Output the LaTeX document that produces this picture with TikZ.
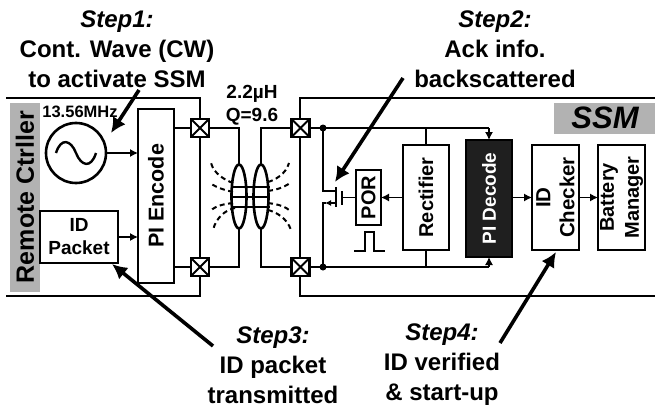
\documentclass[tikz,border=0pt]{standalone}
\usepackage{fontspec}
\setmainfont{Liberation Sans}
\usetikzlibrary{arrows.meta,calc,shapes.geometric}
\tikzset{
  x=1pt,y=-1pt,
  every node/.style={font=\bfseries,inner sep=0pt,outer sep=0pt},
  caption/.style={font=\bfseries\fontsize{24}{30}\selectfont,align=center},
  wire/.style={line width=1.2pt},
  sig/.style={line width=1.2pt,-{Latex[length=8pt,width=8pt]}},
  frame/.style={line width=2.6pt},
  blockbox/.style={draw,line width=2.4pt},
  callout/.style={line width=3.6pt,-{Latex[length=15pt,width=15pt]}},
  fieldline/.style={line width=2pt,dash pattern=on 5pt off 3.5pt},
  pad/.style={draw,line width=2.4pt,fill=white,minimum size=18pt},
  dotc/.style={circle,fill=black,minimum size=7pt},
  greylab/.style={fill=black!30},
  coil/.style={draw,ellipse,line width=2.6pt,minimum width=15pt,minimum height=64pt}
}
\newcommand{\padx}[1]{\draw[line width=1.8pt] (#1.north west)--(#1.south east) (#1.north east)--(#1.south west);}
\begin{document}
\begin{tikzpicture}
\useasboundingbox (0,0) rectangle (655,409);
% frames
\draw[frame] (6,98)--(200,98)--(200,296)--(6,296);
\draw[frame] (655,98)--(300,98)--(300,296)--(655,296);
\node[greylab,minimum width=30pt,minimum height=189pt] (rclab) at (25,197.5) {};
\node[rotate=90,font=\bfseries\fontsize{25}{27}\selectfont] at (25,197) {Remote Ctrller};
\node[greylab,minimum width=101pt,minimum height=31pt] (ssmlab) at (604.5,118.5) {};
\node[font=\bfseries\itshape\fontsize{31}{33}\selectfont] at (605,118) {SSM};
% blocks left
\node[draw,circle,line width=2.6pt,minimum size=60pt] (osc) at (76,153) {};
\draw[line width=2.4pt] (56,153) .. controls (61,137) and (71,140) .. (76,153) .. controls (81,166) and (91,169) .. (96,153);
\node[font=\bfseries\fontsize{16.5}{18}\selectfont] (freq) at (80,111.5) {13.56MHz};
\node[blockbox,minimum width=36pt,minimum height=174pt] (enc) at (156,196) {};
\node[rotate=90,font=\bfseries\fontsize{21.5}{23}\selectfont] at (156,196) {PI Encode};
\node[blockbox,minimum width=78pt,minimum height=52pt,fill=white] (idp) at (79,237) {};
\node[align=center,font=\bfseries\fontsize{19}{23}\selectfont] at (79,236.5) {ID\\Packet};
% pads
\node[pad] (p1) at (200,128) {}; \padx{p1}
\node[pad] (p2) at (200,267) {}; \padx{p2}
\node[pad] (p3) at (300.5,128) {}; \padx{p3}
\node[pad] (p4) at (300.5,267) {}; \padx{p4}
% coils
\node[coil] (c1) at (239,196.5) {};
\node[coil] (c2) at (261,196.5) {};
\draw[wire] (p1)-|(c1.north);
\draw[wire] (p2)-|(c1.south);
\draw[wire] (p3)-|(c2.north);
\draw[wire] (p4)-|(c2.south);
\draw[wire] (enc.east |- p1)--(p1.west) (enc.east |- p2)--(p2.west);
% flux
\foreach \y in {187,197,207}{\draw[line width=1.8pt] (231,\y)--(270,\y);}
\draw[fieldline] (233,183) .. controls (225,180) and (214,174) .. (211,163);
\draw[fieldline] (233,192) .. controls (225,190) and (217,188) .. (210,183);
\draw[fieldline] (233,203) .. controls (225,204) and (217,205) .. (210,211);
\draw[fieldline] (235,208) .. controls (225,210) and (216,218) .. (213,230);
\draw[fieldline] (268,182) .. controls (275,180) and (286,174) .. (289,163);
\draw[fieldline] (268,191) .. controls (275,190) and (283,188) .. (290,183);
\draw[fieldline] (268,203) .. controls (275,204) and (283,205) .. (289,210);
\draw[fieldline] (268,210) .. controls (276,212) and (287,218) .. (291,230);
% left signals
\draw[sig] (osc.east)--(enc.west |- osc.east);
\draw[sig] (idp.east)--(enc.west |- idp.east);
% blocks right
\node[blockbox,minimum width=25pt,minimum height=55pt] (por) at (368.5,197.5) {};
\node[rotate=90,font=\bfseries\fontsize{20}{22}\selectfont] at (368.5,197.5) {POR};
\node[blockbox,minimum width=46pt,minimum height=105pt] (rect) at (426,197.5) {};
\node[rotate=90,font=\bfseries\fontsize{20}{22}\selectfont] at (426,197.5) {Rectifier};
\node[blockbox,fill=black!88,minimum width=46pt,minimum height=117pt] (dec) at (489,198.5) {};
\node[rotate=90,text=white,font=\bfseries\fontsize{19}{21}\selectfont] at (489,198.5) {PI Decode};
\node[blockbox,minimum width=47pt,minimum height=105pt] (chk) at (555.5,197.5) {};
\node[rotate=90,align=center,font=\bfseries\fontsize{20.5}{24}\selectfont] at (555.5,197.5) {ID\\Checker};
\node[blockbox,minimum width=47pt,minimum height=105pt] (bat) at (621.5,197.5) {};
\node[rotate=90,align=center,font=\bfseries\fontsize{20}{25}\selectfont] at (621.5,197.5) {Battery\\Manager};
% rails
\coordinate (d1) at (323,128);
\coordinate (d2) at (323,267);
\node[dotc] (dot1) at (d1) {};
\node[dotc] (dot2) at (d2) {};
\draw[wire] (p3.east)--(489,128);
\draw[sig] (489,128)--(dec.north);
\draw[wire] (p4.east)--(489,267);
\draw[sig] (489,267)--(dec.south);
\draw[wire] (rect.north |- d1)--(rect.north);
\draw[wire] (rect.south)--(rect.south |- d2);
% transistor
\coordinate (tg) at (343,197.5);
\draw[wire] (d1)--(323,191)--(336,191);
\draw[wire,-{Latex[length=6pt,width=6pt]}] (336,203)--(325,203);
\draw[wire] (d2)--(323,203)--(326,203);
\draw[line width=2.6pt] (336,187)--(336,207);
\draw[line width=2.6pt] (342,191)--(342,205);
\draw[wire] (tg)--(por.west);
% right signals
\draw[sig] (rect.west |- por.east)--(por.east);
\draw[sig] (dec.east |- chk.west)--(chk.west);
\draw[sig] (chk.east)--(bat.west);
% pulse
\draw[line width=2.2pt] (354,251)--(365,251)--(365,232)--(374,232)--(374,251)--(385,251);
% callouts and captions
\node[caption] (s1) at (117,49) {\textit{Step1:}\\Cont. Wave (CW)\\to activate SSM};
\node[caption] (s2) at (495,49) {\textit{Step2:}\\Ack info.\\backscattered};
\node[caption] (s3) at (273,365) {\textit{Step3:}\\ID packet\\transmitted};
\node[caption] (s4) at (442,365) {\textit{Step4:}\\ID verified\\\& start-up};
\node[font=\bfseries\fontsize{19}{23}\selectfont,align=center] (lv) at (252,105) {2.2µH\\Q=9.6};
\coordinate (a1s) at (139,90); \coordinate (a1e) at (111,133);
\coordinate (a2s) at (403,78); \coordinate (a2e) at (335,182);
\coordinate (a3s) at (213,346); \coordinate (a3e) at (112,264);
\coordinate (a4s) at (500,343); \coordinate (a4e) at (556,252);
\draw[callout] (a1s)--(a1e);
\draw[callout] (a2s)--(a2e);
\draw[callout] (a3s)--(a3e);
\draw[callout] (a4s)--(a4e);
\end{tikzpicture}
\end{document}
